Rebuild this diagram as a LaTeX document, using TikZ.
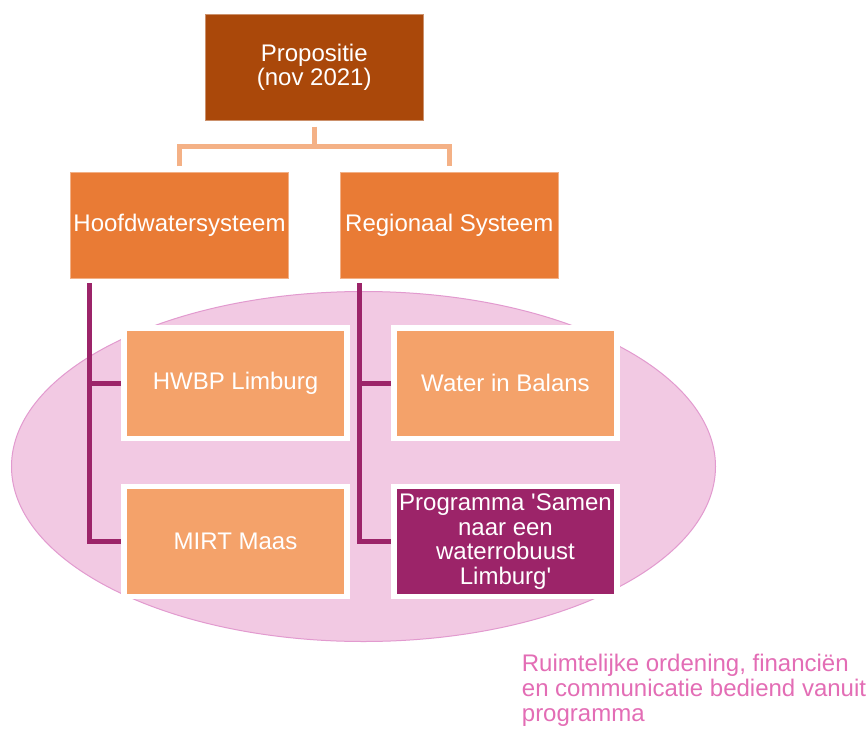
\documentclass[tikz,border=0pt]{standalone}
\usepackage{fontspec}
\setmainfont{Liberation Sans}[Ligatures=TeXOff]
\usetikzlibrary{calc,shapes.geometric}
\definecolor{topc}{HTML}{AA480A}
\definecolor{midc}{HTML}{E97B35}
\definecolor{lowc}{HTML}{F4A26A}
\definecolor{purp}{HTML}{9C2469}
\definecolor{peach}{HTML}{F4B186}
\definecolor{ellfill}{HTML}{F2C9E3}
\definecolor{elldraw}{HTML}{E29ACF}
\definecolor{pinktext}{HTML}{E36DB5}
\tikzset{
  boxtxt/.style={text=white, font=\fontsize{24}{24.5}\selectfont, align=center, inner sep=0pt},
  topbox/.style={boxtxt, fill=topc, draw=topc!60!white, line width=0.8pt, minimum width=217.5pt, minimum height=105.5pt},
  midbox/.style={boxtxt, fill=midc, draw=midc!60!white, line width=0.8pt, minimum width=217.5pt, minimum height=105.5pt},
  lowbox/.style={boxtxt, fill=lowc, draw=white, line width=5.2pt, minimum width=223pt, minimum height=110.5pt},
  progbox/.style={lowbox, fill=purp},
  peachline/.style={draw=peach, line width=4.7pt},
  purpline/.style={draw=purp, line width=5pt},
}
\begin{document}
\begin{tikzpicture}[x=1pt,y=-1pt]
\useasboundingbox (0,0) rectangle (867,728);
\fill[white] (0,0) rectangle (867,728);
\node[ellipse, fill=ellfill, draw=elldraw, line width=1pt, minimum width=704pt, minimum height=350pt, inner sep=0pt] (ell) at (363.5,466.5) {};
\node[topbox] (top) at (314.25,67.5) {Propositie\\(nov 2021)};
\node[midbox] (hoof) at (179.5,225.3) {Hoofdwatersysteem};
\node[midbox] (reg) at (449.25,225.3) {Regionaal Systeem};
\coordinate (lv) at ($(hoof.south west)+(19pt,-5pt)$);
\coordinate (rv) at ($(reg.south west)+(19.5pt,-5pt)$);
\node[lowbox] (hwbp) at (235.5,383.3) {HWBP Limburg};
\node[lowbox] (mirt) at (235.5,541.4) {MIRT Maas};
\node[lowbox] (wib) at (505.5,383.3) {Water in Balans};
\node[progbox] (prog) at (505.5,541.4) {Programma 'Samen\\naar een\\waterrobuust\\Limburg'};
\draw[peachline] ($(top.south)+(0,-6pt)$) -- ($(top.south)+(0,-26pt)$);
\draw[peachline] ($(hoof.north)+(0,6pt)$) |- ($(top.south)+(0,-26pt)$) -| ($(reg.north)+(0,6pt)$);
\draw[purpline] (lv) |- (hwbp.west);
\draw[purpline] (lv) |- (mirt.west);
\draw[purpline] (rv) |- (wib.west);
\draw[purpline] (rv) |- (prog.west);
\node[anchor=north west, inner sep=0pt, align=left, text=pinktext, font=\fontsize{24}{25}\selectfont] (note) at (521.7,654) {Ruimtelijke ordening, financiën\\en communicatie bediend vanuit\\programma};
\end{tikzpicture}
\end{document}
